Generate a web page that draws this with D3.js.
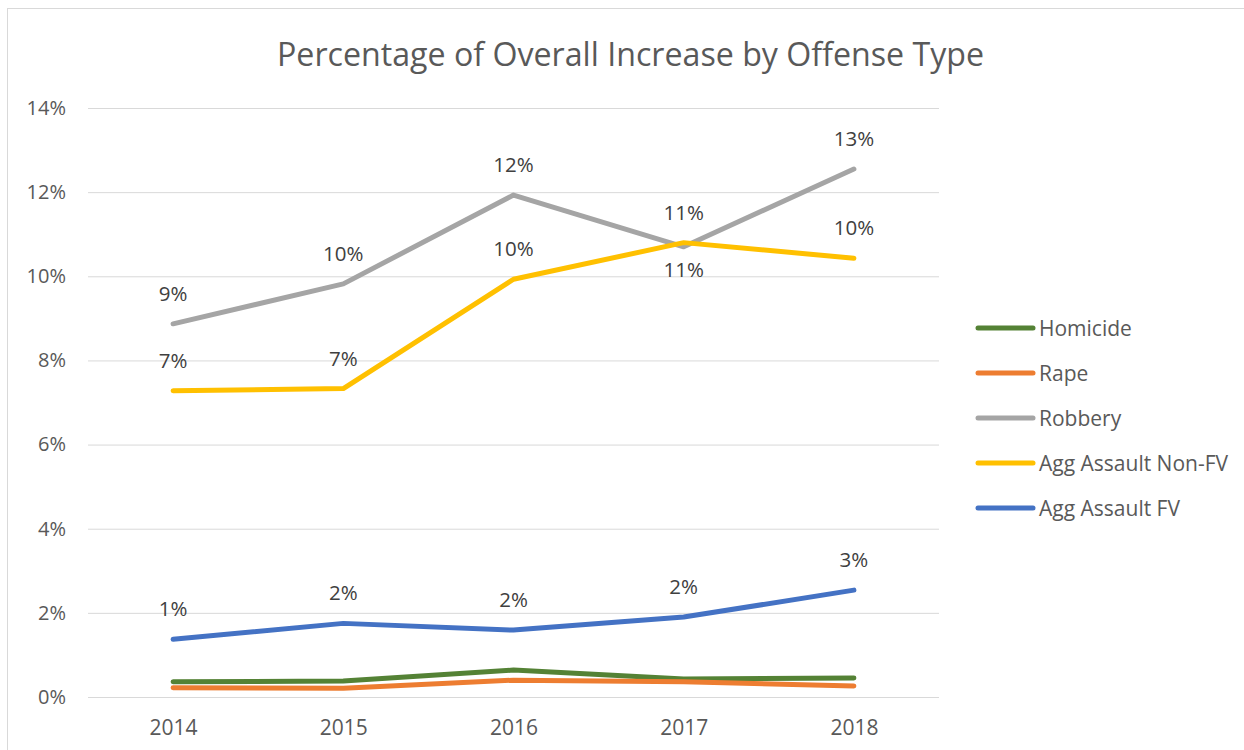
<!DOCTYPE html>
<html>
<head>
<meta charset="utf-8">
<script src="https://cdn.jsdelivr.net/npm/d3@7"></script>
<style>
  html, body { margin: 0; padding: 0; background: #fff; }
  svg { display: block; font-family: "Open Sans", "DejaVu Sans", sans-serif; }
</style>
</head>
<body>
<svg id="chart" width="1244" height="750"></svg>
<script>
// Years on the category axis
const years = ["2014", "2015", "2016", "2017", "2018"];

// Share of the overall increase (percent) for each offense type
const homicide   = [0.36, 0.38, 0.64, 0.43, 0.45];
const rape       = [0.22, 0.21, 0.40, 0.36, 0.26];
const robbery    = [8.87, 9.82, 11.93, 10.70, 12.55];
const aggNonFV   = [7.28, 7.33, 9.93, 10.80, 10.43];
const aggFV      = [1.37, 1.75, 1.59, 1.90, 2.54];

const seriesNames  = ["Homicide", "Rape", "Robbery", "Agg Assault Non-FV", "Agg Assault FV"];
const seriesColors = ["#548235", "#ED7D31", "#A5A5A5", "#FFC000", "#4472C4"];

// Value axis ticks (percent)
const yTicks = [0, 2, 4, 6, 8, 10, 12, 14];

// Data labels: which series show them, and where each label sits
const labelled = ["Robbery", "Agg Assault Non-FV", "Agg Assault FV"];
const labelBelow = { "Robbery": [false, false, false, true, false] };

const values = [homicide, rape, robbery, aggNonFV, aggFV];
const series = seriesNames.map((name, i) => ({
  name, color: seriesColors[i],
  points: years.map((yr, j) => ({ year: yr, value: values[i][j], idx: j }))
}));

const svg = d3.select("#chart");

// Chart area outline
svg.append("rect")
  .attr("x", 7.5).attr("y", 8.5)
  .attr("width", 1400).attr("height", 900)
  .attr("fill", "#fff").attr("stroke", "#D9D9D9").attr("stroke-width", 1);

const plot = { left: 88, right: 939, top: 108, bottom: 697 };

const x = d3.scalePoint().domain(years).range([plot.left, plot.right]).padding(0.5);
const y = d3.scaleLinear().domain([0, 14]).range([plot.bottom, plot.top]);

// Title
svg.append("text")
  .attr("x", 277).attr("y", 66)
  .attr("font-size", 33)
  .attr("fill", "#595959")
  .attr("textLength", 707)
  .attr("lengthAdjust", "spacingAndGlyphs")
  .text("Percentage of Overall Increase by Offense Type");

// Horizontal gridlines and value labels
const yAxis = d3.axisLeft(y)
  .tickValues(yTicks)
  .tickSize(-(plot.right - plot.left))
  .tickPadding(22)
  .tickFormat(d => d + "%");

const gy = svg.append("g")
  .attr("transform", `translate(${plot.left},0)`)
  .call(yAxis);
gy.select(".domain").remove();
gy.selectAll(".tick line").attr("stroke", "#D9D9D9").attr("stroke-width", 1);
gy.selectAll(".tick text")
  .attr("fill", "#595959")
  .attr("font-size", 20)
  .attr("font-family", "Open Sans, sans-serif")
  .attr("dy", "0.32em");

// Category axis labels
const xAxis = d3.axisBottom(x).tickSize(0).tickPadding(0);
const gx = svg.append("g")
  .attr("transform", `translate(0,${plot.bottom})`)
  .call(xAxis);
gx.select(".domain").remove();
gx.selectAll(".tick text")
  .attr("fill", "#595959")
  .attr("font-size", 21)
  .attr("font-family", "Open Sans, sans-serif")
  .attr("dy", null)
  .attr("y", 38);

// Series lines
const line = d3.line()
  .x(d => x(d.year))
  .y(d => y(d.value));

svg.append("g").selectAll("path")
  .data(series)
  .join("path")
  .attr("d", d => line(d.points))
  .attr("fill", "none")
  .attr("stroke", d => d.color)
  .attr("stroke-width", 5)
  .attr("stroke-linecap", "round")
  .attr("stroke-linejoin", "round");

// Rounded data labels
const labels = svg.append("g");
series.filter(s => labelled.includes(s.name)).forEach(s => {
  const below = labelBelow[s.name] || [];
  labels.selectAll(null)
    .data(s.points)
    .join("text")
    .attr("x", d => x(d.year))
    .attr("y", d => below[d.idx] ? y(d.value) + 30 : y(d.value) - 23)
    .attr("text-anchor", "middle")
    .attr("font-size", 20.5)
    .attr("fill", "#404040")
    .text(d => Math.round(d.value) + "%");
});

// Legend
const legend = svg.append("g").selectAll("g")
  .data(series)
  .join("g")
  .attr("transform", (d, i) => `translate(978,${328 + i * 45})`);

legend.append("line")
  .attr("x1", 0).attr("x2", 55)
  .attr("stroke", d => d.color)
  .attr("stroke-width", 5)
  .attr("stroke-linecap", "round");

legend.append("text")
  .attr("x", 61)
  .attr("y", 0)
  .attr("dy", "0.36em")
  .attr("font-size", 21)
  .attr("fill", "#595959")
  .text(d => d.name);
</script>
</body>
</html>
